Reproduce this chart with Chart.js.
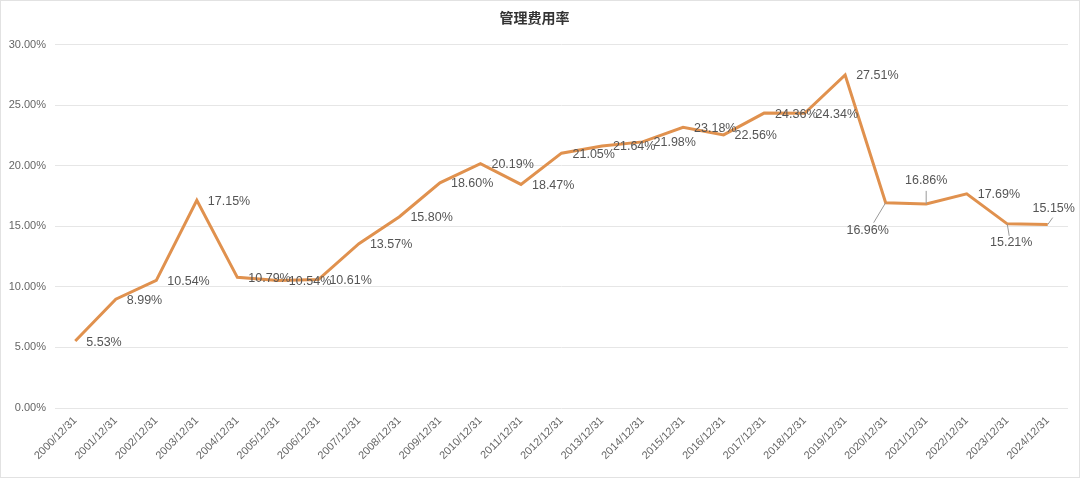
<!DOCTYPE html>
<html>
<head>
<meta charset="utf-8">
<script src="https://cdn.jsdelivr.net/npm/chart.js@4"></script>
<style>
  html, body { margin: 0; padding: 0; background: #fff; }
  #wrap { width: 1078px; height: 476px; border: 1px solid #e2e2e2; }
</style>
</head>
<body>
<div id="wrap"><canvas id="rateChart" width="1078" height="476"></canvas></div>
<script>
const dates = [
  "2000/12/31", "2001/12/31", "2002/12/31", "2003/12/31", "2004/12/31",
  "2005/12/31", "2006/12/31", "2007/12/31", "2008/12/31", "2009/12/31",
  "2010/12/31", "2011/12/31", "2012/12/31", "2013/12/31", "2014/12/31",
  "2015/12/31", "2016/12/31", "2017/12/31", "2018/12/31", "2019/12/31",
  "2020/12/31", "2021/12/31", "2022/12/31", "2023/12/31", "2024/12/31"
];
const adminRate = [
  5.53, 8.99, 10.54, 17.15, 10.79,
  10.54, 10.61, 13.57, 15.80, 18.60,
  20.19, 18.47, 21.05, 21.64, 21.98,
  23.18, 22.56, 24.36, 24.34, 27.51,
  16.96, 16.86, 17.69, 15.21, 15.15
];
const yTicks = [0, 5, 10, 15, 20, 25, 30];

const lineColor = "#E0914E";
const numFont = "'Liberation Sans', 'Noto Sans', sans-serif";

// label placement, most sit right of the point
const special = {
  20: { dx: -18, dy: 28, lx: -12, ly: 20 },
  21: { dx: 0, dy: -23, lx: 0, ly: -13 },
  23: { dx: 4, dy: 19, lx: 2, ly: 12 },
  24: { dx: 6, dy: -16, lx: 5, ly: -7 }
};

const valueLabels = {
  id: "valueLabels",
  afterDatasetsDraw(chart) {
    const c = chart.ctx;
    const meta = chart.getDatasetMeta(0);
    c.save();
    c.font = "12.5px " + numFont;
    c.fillStyle = "#555";
    meta.data.forEach((pt, i) => {
      const txt = adminRate[i].toFixed(2) + "%";
      const s = special[i];
      if (s) {
        c.strokeStyle = "#999";
        c.lineWidth = 1;
        c.beginPath();
        c.moveTo(pt.x, pt.y);
        c.lineTo(pt.x + s.lx, pt.y + s.ly);
        c.stroke();
        c.textAlign = "center";
        c.textBaseline = "middle";
        c.fillText(txt, pt.x + s.dx, pt.y + s.dy);
      } else {
        c.textAlign = "left";
        c.textBaseline = "middle";
        c.fillText(txt, pt.x + 11, pt.y + 1);
      }
    });
    c.restore();
  }
};

new Chart(document.getElementById("rateChart"), {
  type: "line",
  data: {
    labels: dates,
    datasets: [{
      label: "管理费用率",
      data: adminRate,
      borderColor: lineColor,
      borderWidth: 3,
      pointRadius: 0,
      tension: 0,
      fill: false
    }]
  },
  options: {
    responsive: false,
    animation: false,
    layout: { padding: { left: 0, right: 11, top: 0, bottom: 0 } },
    plugins: {
      legend: { display: false },
      tooltip: { enabled: false },
      title: {
        display: true,
        text: "管理费用率",
        color: "#333",
        font: { family: "'Noto Sans CJK SC', sans-serif", size: 14, weight: "bold", lineHeight: 1.2 },
        padding: { top: 8, bottom: 19 }
      }
    },
    scales: {
      x: {
        offset: true,
        grid: { display: false, drawTicks: false },
        border: { display: false },
        ticks: {
          autoSkip: false,
          minRotation: 45,
          maxRotation: 45,
          padding: 6,
          color: "#666",
          font: { family: numFont, size: 11 }
        },
        afterFit(scale) { scale.height = 69; }
      },
      y: {
        min: 0,
        max: 30,
        afterBuildTicks(scale) { scale.ticks = yTicks.map(v => ({ value: v })); },
        grid: { color: "#e6e6e6", lineWidth: 1, drawTicks: false },
        border: { display: false },
        ticks: {
          padding: 9,
          color: "#666",
          font: { family: numFont, size: 11 },
          callback: v => v.toFixed(2) + "%"
        },
        afterFit(scale) { scale.width = 54; }
      }
    }
  },
  plugins: [valueLabels]
});
</script>
</body>
</html>
